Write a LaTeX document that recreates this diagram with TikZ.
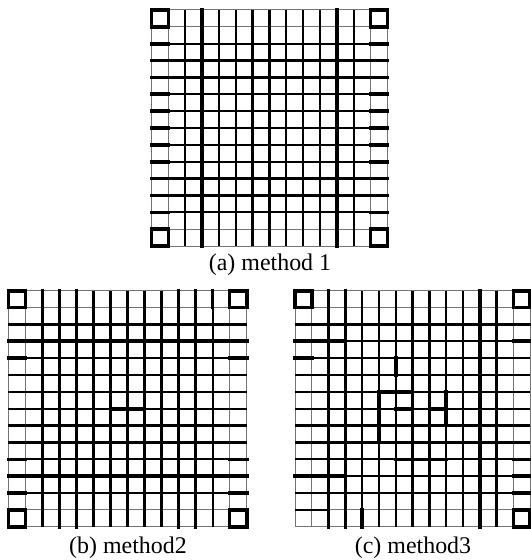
\documentclass[tikz,border=0pt]{standalone}
\usepackage{fontspec}
\setmainfont{Liberation Serif}
\usetikzlibrary{positioning}

\begin{document}
\begin{tikzpicture}[x=1bp, y=-1bp,
  fina/.style={line width=1bp, black!55},
  media/.style={line width=2.3bp, black},
  gruesa/.style={line width=3.6bp, black, line cap=rect},
  rotulo/.style={font=\fontsize{24}{24}\selectfont, inner sep=0pt}]
  \useasboundingbox (0,0) rectangle (531,560);

  % (a) method 1
  \begin{scope}[shift={(151.5,10)}, x=16.85bp, y=-16.86bp]
    \foreach \i in {0,...,14}
      \draw[fina] (\i,0) -- (\i,14) (0,\i) -- (14,\i);
    \foreach \i in {2,4,5,6,7,8,9,10,12}
      \draw[media] (\i,0) -- (\i,14) (0,\i) -- (14,\i);
    \foreach \i in {3,11}
      \draw[gruesa] (\i,0) -- (\i,14) (0,\i) -- (14,\i);
    \foreach \i in {2,...,12}
      \draw[gruesa] (0,\i) -- (1,\i) (13,\i) -- (14,\i);
    \draw[gruesa] (0,0) rectangle (1,1) (13,0) rectangle (14,1)
                  (0,13) rectangle (1,14) (13,13) rectangle (14,14);
  \end{scope}

  % (b) method2
  \begin{scope}[shift={(8.3,290.7)}, x=17.03bp, y=-16.86bp]
    \foreach \i in {0,...,14}
      \draw[fina] (\i,0) -- (\i,14) (0,\i) -- (14,\i);
    \foreach \i in {2,4,5,6,7,8,9,10,12}
      \draw[media] (\i,0) -- (\i,14) (0,\i) -- (14,\i);
    \foreach \i in {3,11}
      \draw[gruesa] (\i,0) -- (\i,14) (0,\i) -- (14,\i);
    \foreach \i in {4,10}
      \draw[gruesa] (\i,0) -- (\i,1) (\i,13) -- (\i,14);
    \foreach \i in {2,12}
      \draw[gruesa] (\i,0) -- (\i,1);
    \foreach \i in {3,4,10,11,12}
      \draw[gruesa] (0,\i) -- (1,\i) (13,\i) -- (14,\i);
    \draw[gruesa] (7,6) -- (7,8) (6,7) -- (8,7);
    \draw[gruesa] (0,0) rectangle (1,1) (13,0) rectangle (14,1)
                  (0,13) rectangle (1,14) (13,13) rectangle (14,14);
  \end{scope}

  % (c) method3
  \begin{scope}[shift={(295,290.7)}, x=16.8bp, y=-16.86bp]
    \foreach \i in {0,...,14}
      \draw[fina] (\i,0) -- (\i,14) (0,\i) -- (14,\i);
    \foreach \i in {2,4,5,6,7,8,9,10,12}
      \draw[media] (\i,0) -- (\i,14) (0,\i) -- (14,\i);
    \foreach \i in {3,11}
      \draw[media] (0,\i) -- (14,\i);
    \foreach \i in {3,11}
      \draw[gruesa] (\i,0) -- (\i,14);
    \draw[gruesa] (2,0) -- (2,1) (2,13) -- (2,14) (4,13) -- (4,14);
    \draw[gruesa] (0,3) -- (3,3) (0,11) -- (3,11) (0,4) -- (1,4);
    \draw[media] (0,13) -- (2,13);
    \foreach \i in {2,3,10,11,12}
      \draw[gruesa] (13,\i) -- (14,\i);
    % centre
    \draw[gruesa] (6,4) -- (6,5) (7,5) -- (7,6) (5,6) -- (7,6)
                  (5,6) -- (5,9) (6,7) -- (7,7) (9,6) -- (9,7)
                  (5,9) -- (6,9) (6,10) -- (9,10);
    \draw[gruesa] (8,7) rectangle (9,8);
    \draw[gruesa] (0,0) rectangle (1,1) (13,0) rectangle (14,1)
                  (13,13) rectangle (14,14);
  \end{scope}

  \node[rotulo] (capa) at (270,265) {(a) method 1};
  \node[rotulo] (capb) at (128,548) {(b) method2};
  \node[rotulo] (capc) at (413,548) {(c) method3};
\end{tikzpicture}
\end{document}
